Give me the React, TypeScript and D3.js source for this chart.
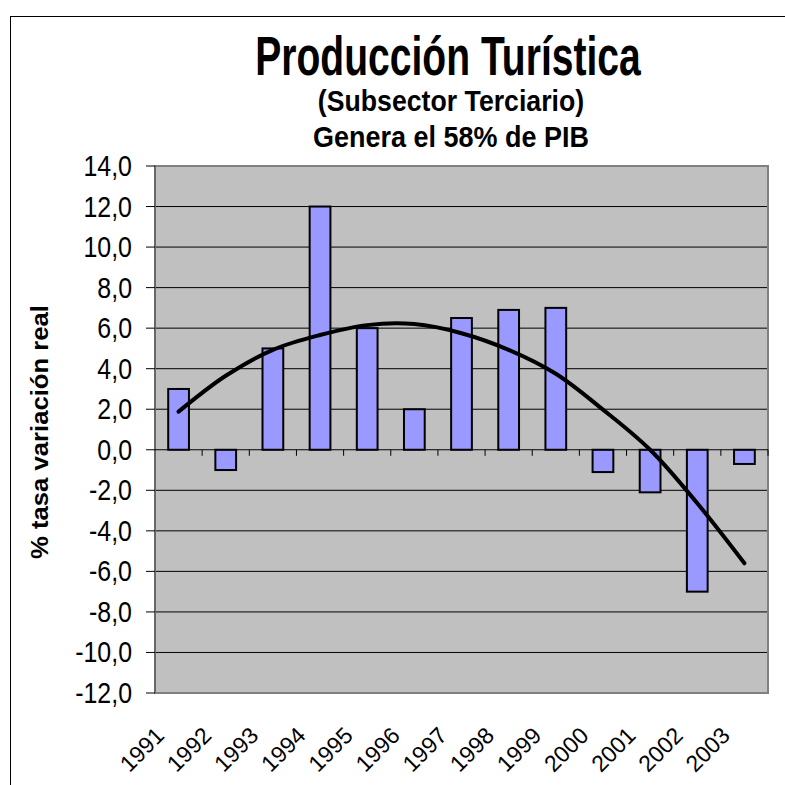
import React from "react";
import * as d3 from "d3";

const years = ["1991","1992","1993","1994","1995","1996","1997","1998","1999","2000","2001","2002","2003"];
const values = [3.0, -1.0, 5.0, 12.0, 6.0, 2.0, 6.5, 6.9, 7.0, -1.1, -2.1, -7.0, -0.7];
const trend = [1.88, 3.65, 4.93, 5.66, 6.15, 6.2, 5.75, 4.93, 3.75, 1.98, 0.0, -2.64, -5.6];
const yTicks = [14, 12, 10, 8, 6, 4, 2, 0, -2, -4, -6, -8, -10, -12];
const title = "Producción Turística";
const subtitle1 = "(Subsector Terciario)";
const subtitle2 = "Genera el 58% de PIB";
const yTitle = "% tasa variación real";

const W = 785, H = 785;
const L = 155, R = 768, T = 166, B = 693;

export default function App() {
  const x = d3.scaleBand<string>().domain(years).range([L, R]).paddingInner(0.56).paddingOuter(0.28);
  const y = d3.scaleLinear().domain([-12, 14]).range([B, T]);
  const step = x.step();
  const cx = (d: string) => (x(d) as number) + x.bandwidth() / 2;
  const fmt = (v: number) => v.toFixed(1).replace(".", ",");
  const line = d3.line<number>().x((_, i) => cx(years[i])).y(v => y(v)).curve(d3.curveCatmullRom.alpha(0.5));
  const font = "'Liberation Sans', Arial, sans-serif";

  return (
    <svg width={W} height={H} style={{ position: "absolute", left: 0, top: 0, display: "block", background: "#fff" }} fontFamily={font}>
      <rect x={10.5} y={16.5} width={900} height={900} fill="none" stroke="#000" strokeWidth={1} />
      <text transform="translate(448,75) scale(0.71,1)" textAnchor="middle" fontSize={55} fontWeight="bold">{title}</text>
      <text transform="translate(451,111) scale(0.92,1)" textAnchor="middle" fontSize={29} fontWeight="bold">{subtitle1}</text>
      <text transform="translate(451,147) scale(0.93,1)" textAnchor="middle" fontSize={29} fontWeight="bold">{subtitle2}</text>
      <rect x={L} y={T} width={R - L} height={B - T} fill="#c0c0c0" />
      {yTicks.filter(t => t !== 14 && t !== -12 && t !== 0).map(t => (
        <line key={"g" + t} x1={L} x2={R} y1={y(t)} y2={y(t)} stroke="#000" strokeWidth={1} />
      ))}
      <rect x={L} y={T} width={R - L} height={B - T} fill="none" stroke="#808080" strokeWidth={2} />
      <line x1={L} x2={L} y1={T} y2={B} stroke="#606060" strokeWidth={1.5} />
      {yTicks.map(t => (
        <g key={"t" + t}>
          <line x1={146} x2={L} y1={y(t)} y2={y(t)} stroke="#000" strokeWidth={1} />
          <text transform={`translate(132,${y(t) + 10}) scale(0.86,1)`} textAnchor="end" fontSize={29}>{fmt(t)}</text>
        </g>
      ))}
      {values.map((v, i) => (
        <rect key={"b" + i} x={x(years[i])} y={y(Math.max(0, v))} width={x.bandwidth()} height={Math.abs(y(v) - y(0))}
          fill="#9999ff" stroke="#000" strokeWidth={2} />
      ))}
      <line x1={L} x2={R} y1={y(0)} y2={y(0)} stroke="#000" strokeWidth={1.2} />
      {years.map((d, i) => (
        <line key={"xt" + i} x1={L + step * (i + 1)} x2={L + step * (i + 1)} y1={y(0)} y2={y(0) + 6} stroke="#000" strokeWidth={1} />
      ))}
      <path d={line(trend) || ""} fill="none" stroke="#000" strokeWidth={4} strokeLinecap="round" strokeLinejoin="round" />
      {years.map(d => (
        <text key={"xl" + d} transform={`translate(${cx(d) - 13},737) rotate(-45)`} textAnchor="end" fontSize={23}>{d}</text>
      ))}
      <text transform="translate(48,432) rotate(-90) scale(1.07,1)" textAnchor="middle" fontSize={24} fontWeight="bold">{yTitle}</text>
    </svg>
  );
}
